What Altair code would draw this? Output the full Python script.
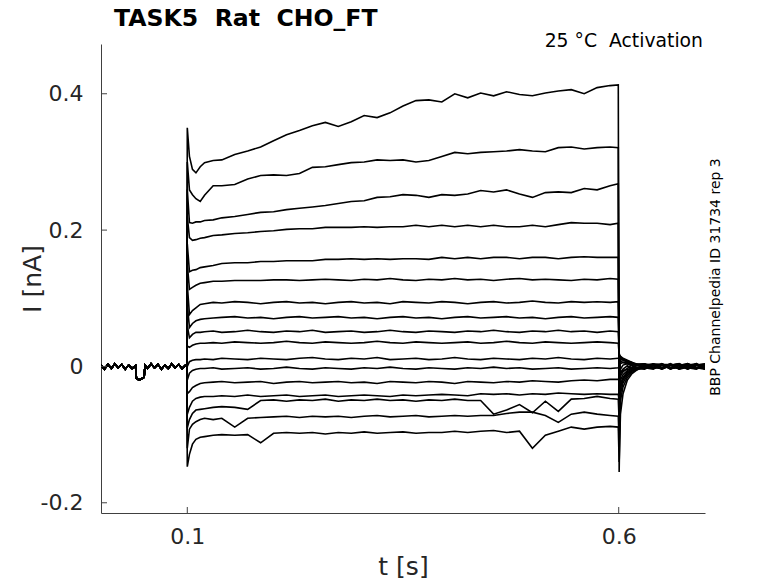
import altair as alt
import pandas as pd

# ---------------- data ----------------
NB = "\u00a0"
TITLE = "TASK5" + NB + NB + "Rat" + NB + NB + "CHO_FT"
NOTE = "25 °C" + NB + NB + "Activation"
SIDE = "BBP Channelpedia ID 31734 rep 3"
X_TICKS = [0.1, 0.6]
Y_TICKS = [-0.2, 0.0, 0.2, 0.4]

# holding period (shared by all sweeps)
PRE_T = [0.000, 0.004, 0.008, 0.012, 0.016, 0.020, 0.024, 0.028, 0.032, 0.036,
         0.040, 0.041, 0.044, 0.047, 0.050, 0.051, 0.054, 0.058, 0.062, 0.066,
         0.070, 0.074, 0.078, 0.082, 0.086, 0.090, 0.094, 0.098, 0.0995]
PRE_I = [0.002, -0.004, 0.003, -0.003, 0.004, -0.002, 0.003, -0.004, 0.002, -0.003,
         0.001, -0.017, -0.020, -0.018, -0.016, 0.002, -0.003, 0.004, -0.002, 0.003,
         -0.004, 0.002, -0.003, 0.004, -0.002, 0.003, -0.003, 0.002, 0.000]

# voltage step period
STEP_T = [0.1000, 0.1025, 0.106, 0.110, 0.115, 0.120, 0.130, 0.140, 0.155, 0.170,
          0.185, 0.200, 0.215, 0.230, 0.245, 0.260, 0.275, 0.290, 0.305, 0.320,
          0.335, 0.350, 0.365, 0.380, 0.395, 0.410, 0.425, 0.440, 0.455, 0.470,
          0.485, 0.500, 0.515, 0.530, 0.545, 0.560, 0.575, 0.590, 0.5995]

STEP_01 = [0.350, 0.308, 0.289, 0.284, 0.293, 0.299, 0.302, 0.303, 0.311, 0.316,
           0.322, 0.331, 0.340, 0.346, 0.353, 0.358, 0.352, 0.359, 0.368, 0.365,
           0.372, 0.382, 0.390, 0.391, 0.388, 0.400, 0.394, 0.401, 0.397, 0.403,
           0.399, 0.397, 0.401, 0.404, 0.406, 0.400, 0.409, 0.412, 0.413]
STEP_02 = [0.300, 0.259, 0.252, 0.246, 0.242, 0.251, 0.265, 0.265, 0.267, 0.275,
           0.280, 0.281, 0.280, 0.283, 0.292, 0.293, 0.296, 0.299, 0.300, 0.303,
           0.302, 0.303, 0.300, 0.302, 0.308, 0.314, 0.312, 0.314, 0.315, 0.316,
           0.318, 0.316, 0.315, 0.321, 0.322, 0.319, 0.321, 0.322, 0.321]
STEP_03 = [0.260, 0.211, 0.210, 0.212, 0.212, 0.214, 0.215, 0.218, 0.220, 0.223,
           0.226, 0.227, 0.230, 0.232, 0.234, 0.236, 0.239, 0.242, 0.243, 0.248,
           0.249, 0.252, 0.251, 0.248, 0.252, 0.251, 0.253, 0.258, 0.256, 0.259,
           0.253, 0.248, 0.255, 0.256, 0.255, 0.261, 0.259, 0.265, 0.268]
STEP_04 = [0.220, 0.189, 0.185, 0.186, 0.188, 0.189, 0.192, 0.193, 0.195, 0.196,
           0.198, 0.199, 0.201, 0.202, 0.202, 0.204, 0.204, 0.204, 0.205, 0.204,
           0.205, 0.205, 0.207, 0.205, 0.207, 0.205, 0.207, 0.205, 0.207, 0.205,
           0.205, 0.207, 0.205, 0.208, 0.211, 0.210, 0.210, 0.208, 0.210]
STEP_05 = [0.180, 0.139, 0.141, 0.142, 0.145, 0.146, 0.148, 0.151, 0.152, 0.152,
           0.154, 0.154, 0.155, 0.155, 0.155, 0.157, 0.157, 0.158, 0.157, 0.158,
           0.157, 0.158, 0.158, 0.157, 0.160, 0.158, 0.160, 0.158, 0.160, 0.160,
           0.158, 0.160, 0.160, 0.158, 0.160, 0.161, 0.160, 0.160, 0.160]
STEP_06 = [0.150, 0.113, 0.116, 0.119, 0.122, 0.123, 0.125, 0.125, 0.126, 0.126,
           0.126, 0.127, 0.127, 0.126, 0.127, 0.128, 0.127, 0.126, 0.128, 0.127,
           0.129, 0.127, 0.126, 0.128, 0.127, 0.129, 0.127, 0.128, 0.126, 0.128,
           0.129, 0.127, 0.128, 0.127, 0.126, 0.128, 0.127, 0.129, 0.128]
STEP_07 = [0.120, 0.076, 0.082, 0.086, 0.091, 0.092, 0.094, 0.093, 0.095, 0.094,
           0.092, 0.094, 0.095, 0.093, 0.094, 0.092, 0.094, 0.095, 0.093, 0.094,
           0.092, 0.095, 0.094, 0.093, 0.095, 0.094, 0.092, 0.094, 0.095, 0.093,
           0.094, 0.096, 0.094, 0.093, 0.095, 0.094, 0.095, 0.094, 0.095]
STEP_08 = [0.090, 0.057, 0.063, 0.067, 0.069, 0.070, 0.071, 0.072, 0.073, 0.071,
           0.072, 0.070, 0.072, 0.073, 0.071, 0.072, 0.073, 0.071, 0.072, 0.070,
           0.072, 0.073, 0.071, 0.072, 0.070, 0.072, 0.073, 0.071, 0.072, 0.073,
           0.071, 0.072, 0.070, 0.072, 0.073, 0.071, 0.072, 0.073, 0.072]
STEP_09 = [0.060, 0.042, 0.047, 0.050, 0.050, 0.051, 0.052, 0.050, 0.051, 0.053,
           0.051, 0.050, 0.052, 0.051, 0.053, 0.050, 0.051, 0.052, 0.050, 0.051,
           0.053, 0.051, 0.050, 0.052, 0.051, 0.050, 0.052, 0.051, 0.053, 0.051,
           0.050, 0.052, 0.051, 0.053, 0.051, 0.052, 0.050, 0.052, 0.051]
STEP_10 = [0.030, 0.028, 0.031, 0.033, 0.034, 0.034, 0.035, 0.034, 0.036, 0.035,
           0.034, 0.035, 0.037, 0.035, 0.034, 0.036, 0.035, 0.034, 0.035, 0.037,
           0.035, 0.034, 0.036, 0.035, 0.034, 0.035, 0.036, 0.034, 0.035, 0.037,
           0.035, 0.034, 0.036, 0.035, 0.034, 0.035, 0.036, 0.035, 0.034]
STEP_11 = [0.000, 0.007, 0.009, 0.010, 0.010, 0.011, 0.010, 0.012, 0.011, 0.010,
           0.012, 0.011, 0.010, 0.012, 0.013, 0.011, 0.010, 0.012, 0.011, 0.013,
           0.010, 0.011, 0.012, 0.010, 0.011, 0.013, 0.011, 0.010, 0.012, 0.011,
           0.010, 0.012, 0.011, 0.013, 0.011, 0.010, 0.012, 0.011, 0.012]
STEP_12 = [-0.020, -0.010, -0.006, -0.004, -0.003, -0.003, -0.002, -0.004, -0.003, -0.002,
           -0.004, -0.003, -0.001, -0.003, -0.004, -0.002, -0.003, -0.004, -0.002, -0.003,
           -0.001, -0.003, -0.004, -0.002, -0.003, -0.004, -0.002, -0.003, -0.001, -0.003,
           -0.002, -0.004, -0.003, -0.002, -0.004, -0.003, -0.002, -0.003, -0.002]
STEP_13 = [-0.040, -0.037, -0.031, -0.028, -0.025, -0.024, -0.023, -0.022, -0.024, -0.023,
           -0.022, -0.025, -0.023, -0.022, -0.024, -0.023, -0.022, -0.024, -0.023, -0.025,
           -0.022, -0.023, -0.024, -0.022, -0.023, -0.025, -0.022, -0.023, -0.024, -0.022,
           -0.023, -0.021, -0.022, -0.023, -0.021, -0.020, -0.021, -0.019, -0.019]
STEP_14 = [-0.070, -0.060, -0.051, -0.047, -0.045, -0.044, -0.044, -0.043, -0.044, -0.042,
           -0.044, -0.043, -0.042, -0.044, -0.043, -0.042, -0.044, -0.043, -0.042, -0.043,
           -0.044, -0.042, -0.043, -0.042, -0.041, -0.042, -0.043, -0.040, -0.041, -0.040,
           -0.042, -0.040, -0.041, -0.039, -0.040, -0.041, -0.040, -0.041, -0.041]
STEP_15 = [-0.090, -0.078, -0.069, -0.064, -0.063, -0.062, -0.060, -0.059, -0.060, -0.063,
           -0.050, -0.049, -0.051, -0.049, -0.050, -0.048, -0.051, -0.049, -0.050, -0.048,
           -0.050, -0.049, -0.051, -0.049, -0.050, -0.048, -0.050, -0.050, -0.070, -0.064,
           -0.056, -0.068, -0.051, -0.066, -0.048, -0.047, -0.044, -0.047, -0.048]
STEP_16 = [-0.120, -0.092, -0.085, -0.081, -0.078, -0.076, -0.078, -0.076, -0.089, -0.076,
           -0.075, -0.074, -0.073, -0.075, -0.073, -0.074, -0.073, -0.075, -0.073, -0.072,
           -0.074, -0.073, -0.072, -0.074, -0.073, -0.072, -0.073, -0.072, -0.072, -0.069,
           -0.067, -0.067, -0.072, -0.082, -0.070, -0.067, -0.070, -0.072, -0.073]
STEP_17 = [-0.147, -0.129, -0.114, -0.107, -0.104, -0.103, -0.101, -0.100, -0.101, -0.100,
           -0.112, -0.098, -0.097, -0.098, -0.097, -0.099, -0.097, -0.098, -0.096, -0.098,
           -0.097, -0.096, -0.098, -0.097, -0.097, -0.095, -0.097, -0.095, -0.094, -0.097,
           -0.095, -0.120, -0.101, -0.095, -0.089, -0.092, -0.089, -0.088, -0.089]

# return to holding (tail currents)
TAIL_T = [0.6005, 0.602, 0.605, 0.610, 0.615, 0.620, 0.630, 0.640, 0.650, 0.660,
          0.670, 0.680, 0.690, 0.700]
TAIL_01 = [-0.155, -0.040, -0.024, -0.013, -0.007, -0.004, 0.002, -0.003, 0.004, -0.002, 0.003, -0.004, 0.002, -0.001]
TAIL_02 = [-0.100, -0.032, -0.020, -0.010, -0.006, -0.002, -0.003, 0.003, -0.002, 0.004, -0.003, 0.002, -0.003, 0.002]
TAIL_03 = [-0.060, -0.026, -0.016, -0.008, -0.004, 0.001, 0.003, -0.002, 0.003, -0.004, 0.002, -0.003, 0.004, -0.002]
TAIL_04 = [-0.030, -0.020, -0.012, -0.006, -0.002, -0.003, 0.002, 0.004, -0.003, 0.002, -0.002, 0.004, -0.002, 0.003]
TAIL_05 = [-0.010, -0.014, -0.008, -0.003, 0.002, 0.003, -0.002, -0.004, 0.002, 0.003, -0.004, 0.001, 0.003, -0.003]
TAIL_06 = [0.000, -0.009, -0.004, 0.001, -0.003, 0.002, 0.004, -0.002, -0.003, 0.002, 0.004, -0.002, -0.004, 0.002]
TAIL_07 = [0.010, -0.004, 0.002, 0.004, 0.001, -0.002, -0.003, 0.003, 0.002, -0.003, -0.001, 0.003, 0.002, -0.004]
TAIL_08 = [0.015, 0.004, 0.006, 0.005, 0.003, 0.004, -0.002, 0.001, -0.004, 0.002, 0.003, -0.003, 0.001, 0.003]
TAIL_09 = [0.020, 0.010, 0.009, 0.006, 0.004, 0.002, 0.003, -0.003, 0.002, -0.002, 0.001, 0.004, -0.003, 0.001]
TAIL_10 = [0.018, 0.014, 0.011, 0.007, 0.005, 0.003, -0.001, 0.002, 0.004, -0.003, -0.002, 0.002, 0.003, -0.002]
TAIL_11 = [0.012, 0.015, 0.012, 0.009, 0.006, 0.004, 0.002, -0.002, 0.001, 0.003, -0.004, -0.001, 0.002, 0.004]
TAIL_12 = [0.000, 0.012, 0.010, 0.008, 0.006, 0.003, 0.004, 0.001, -0.003, 0.002, 0.003, -0.002, -0.003, 0.002]
TAIL_13 = [-0.020, 0.008, 0.006, 0.004, 0.002, -0.001, -0.003, 0.004, 0.002, -0.002, 0.002, 0.003, -0.002, -0.003]
TAIL_14 = [-0.050, -0.010, -0.006, -0.004, -0.003, -0.002, 0.001, -0.003, 0.003, 0.002, -0.003, 0.001, 0.004, -0.002]
TAIL_15 = [-0.080, -0.030, -0.018, -0.010, -0.006, -0.003, -0.004, 0.002, -0.002, 0.003, 0.001, -0.004, 0.002, 0.003]
TAIL_16 = [-0.110, -0.050, -0.030, -0.016, -0.009, -0.005, -0.002, 0.003, -0.004, 0.001, 0.004, -0.002, -0.003, 0.001]
TAIL_17 = [-0.140, -0.070, -0.040, -0.020, -0.011, -0.006, 0.001, -0.002, 0.003, -0.004, 0.002, 0.003, -0.002, -0.004]

STEPS = [STEP_01, STEP_02, STEP_03, STEP_04, STEP_05, STEP_06, STEP_07, STEP_08, STEP_09,
         STEP_10, STEP_11, STEP_12, STEP_13, STEP_14, STEP_15, STEP_16, STEP_17]
TAILS = [TAIL_01, TAIL_02, TAIL_03, TAIL_04, TAIL_05, TAIL_06, TAIL_07, TAIL_08, TAIL_09,
         TAIL_10, TAIL_11, TAIL_12, TAIL_13, TAIL_14, TAIL_15, TAIL_16, TAIL_17]

rows = []
for k, (st, tl) in enumerate(zip(STEPS, TAILS)):
    ts = PRE_T + STEP_T + TAIL_T
    vs = PRE_I + st + tl
    for j, (t, v) in enumerate(zip(ts, vs)):
        rows.append({"sweep": k, "order": j, "t": t, "i": v})
df = pd.DataFrame(rows)

FONT = "DejaVu Sans"
W, H = 604, 469
xs = alt.Scale(domain=[0, 0.7], nice=False, zero=False)
ys = alt.Scale(domain=[-0.215, 0.473], nice=False, zero=False)

traces = alt.Chart(df).mark_line(color="black", strokeWidth=1.6, clip=True).encode(
    x=alt.X("t:Q", scale=xs,
            axis=alt.Axis(values=X_TICKS, format=".1f", title="t [s]", ticks=False, tickSize=0,
                          labelPadding=13, labelFontSize=22, titleFontSize=25,
                          titleBaseline="alphabetic", titleY=61)),
    y=alt.Y("i:Q", scale=ys,
            axis=alt.Axis(values=Y_TICKS, title="I [nA]", ticks=False, tickSize=0,
                          labelExpr="datum.value == 0 ? '0' : (datum.value < 0 ? '-' + format(-datum.value, '.1f') : format(datum.value, '.1f'))",
                          labelPadding=18, labelFontSize=22, titleFontSize=25,
                          titleBaseline="alphabetic", titleX=-61, titleAngle=270)),
    detail="sweep:N",
    order="order:Q",
)

ytick_df = pd.DataFrame({"v": Y_TICKS})
xtick_df = pd.DataFrame({"v": X_TICKS})
yticks = alt.Chart(ytick_df).mark_rule(color="#404040", strokeWidth=1).encode(
    y=alt.Y("v:Q", scale=ys), x=alt.value(0), x2=alt.value(6))
xticks = alt.Chart(xtick_df).mark_rule(color="#404040", strokeWidth=1).encode(
    x=alt.X("v:Q", scale=xs), y=alt.value(H), y2=alt.value(H - 6))

title = alt.Chart(pd.DataFrame({"s": [TITLE]})).mark_text(
    font=FONT, fontSize=23.6, fontWeight="bold", align="left", baseline="alphabetic", color="black"
).encode(text="s:N", x=alt.value(13), y=alt.value(-18))

note = alt.Chart(pd.DataFrame({"s": [NOTE]})).mark_text(
    font=FONT, fontSize=18.8, align="right", baseline="alphabetic", color="black"
).encode(text="s:N", x=alt.value(602), y=alt.value(3))

side = alt.Chart(pd.DataFrame({"s": [SIDE]})).mark_text(
    font=FONT, fontSize=14, align="center", baseline="middle", angle=270, color="black"
).encode(text="s:N", x=alt.value(615), y=alt.value(233))

chart = alt.layer(traces, yticks, xticks, title, note, side).properties(
    width=W, height=H,
    autosize=alt.AutoSizeParams(type="none"),
    padding={"left": 93, "top": 36, "right": 58, "bottom": 68},
    background="white",
).configure_view(stroke=None).configure_axis(
    grid=False, domainColor="#404040", domainWidth=1,
    labelFont=FONT, titleFont=FONT, labelColor="#262626", titleColor="#262626",
    titleFontWeight="normal",
)

chart.save("out.html", embed_options={"renderer": "svg", "actions": False})
